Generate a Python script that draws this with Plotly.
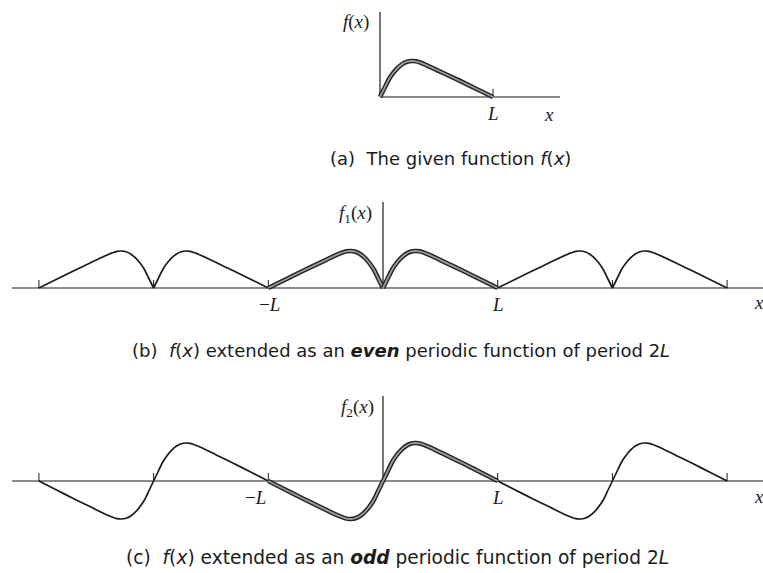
"""Even and odd periodic extensions of f(x), drawn as three stacked panels."""

import numpy as np
import plotly.graph_objects as go

W, H = 763, 573

# f(x) on [0, L] (x in units of L, y in units of the peak height)
BASE_X = [0, 0.04, 0.08, 0.12, 0.16, 0.20, 0.24, 0.28, 0.32, 0.40, 0.55, 0.70, 0.85, 1.00]
BASE_Y = [0, 0.25, 0.50, 0.68, 0.82, 0.92, 0.98, 1.00, 0.99, 0.90, 0.68, 0.46, 0.23, 0]

SHIFTS = [-1, 0, 1]            # periods of 2L drawn in (b) and (c)
TICKS_A = [1]
TICKS_BC = [-3, -2, -1, 1, 2, 3]
TICK_TEXT = {-1: "\u2212<i>L</i>", 1: "<i>L</i>"}

CAPTIONS = [
    "(a)  The given function <i>f</i>(<i>x</i>)",
    "(b)  <i>f</i>(<i>x</i>) extended as an <b><i>even</i></b> periodic function of period 2<i>L</i>",
    "(c)  <i>f</i>(<i>x</i>) extended as an <b><i>odd</i></b> periodic function of period 2<i>L</i>",
]
YLABELS = ["<i>f</i>(<i>x</i>)", "<i>f</i><sub>1</sub>(<i>x</i>)", "<i>f</i><sub>2</sub>(<i>x</i>)"]

# pixel layout of each panel: origin, px per unit, band top/bottom, axis extents
PANELS = [
    dict(ox=380, oy=97, sx=113, sy=36, top=0, bot=135, xl=380, xr=560, ytop=12, lshift=0),
    dict(ox=383, oy=288, sx=114.7, sy=37, top=190, bot=330, xl=12, xr=763, ytop=202, lshift=0.01),
    dict(ox=383, oy=481, sx=114.7, sy=38, top=385, bot=535, xl=12, xr=763, ytop=396, lshift=-0.11),
]
LABEL_POS = [  # (ylabel px, x-letter px, caption px, caption size)
    ((356, 22), (549, 114), (450, 158), 18),
    ((355, 214), (759, 303), (401, 350), 18),
    ((357, 408), (759, 496), (398, 557), 18.6),
]

SERIF = "Liberation Serif"
SANS = "DejaVu Sans"
INK = "#1b1b1b"

bx = np.array(BASE_X)
by = np.array(BASE_Y)

fig = go.Figure()


def ax_names(i):
    return ("x", "y") if i == 0 else (f"x{i + 1}", f"y{i + 1}")


def add_line(i, x, y, width, color, shape="linear"):
    xa, ya = ax_names(i)
    fig.add_trace(go.Scatter(x=x, y=y, mode="lines", xaxis=xa, yaxis=ya, hoverinfo="skip",
                             line=dict(color=color, width=width, shape=shape, smoothing=0.8),
                             showlegend=False))


def add_thick(i, x, y):
    add_line(i, x, y, 4.6, "#222222", "spline")
    add_line(i, x, y, 1.8, "#9a9a9a", "spline")


def note(x, y, text, family, size, xref="paper", yref="paper"):
    return dict(x=x, y=y, xref=xref, yref=yref, text=text, showarrow=False,
                xanchor="center", yanchor="middle",
                font=dict(family=family, size=size, color=INK))


for i, p in enumerate(PANELS):
    # axes lines and ticks
    add_line(i, [(p["xl"] - p["ox"]) / p["sx"], (p["xr"] - p["ox"]) / p["sx"]], [0, 0], 1.2, INK)
    add_line(i, [0, 0], [0, (p["oy"] - p["ytop"]) / p["sy"]], 1.2, INK)
    for t in (TICKS_A if i == 0 else TICKS_BC):
        add_line(i, [t, t], [0, 8 / p["sy"]], 1.0, INK)

# (a) the given function
add_thick(0, bx, by)

# (b) even extension: mirror, then repeat with period 2L
for k in SHIFTS:
    left_x, right_x = -bx[::-1] + 2 * k, bx + 2 * k
    if k == 0:
        add_thick(1, left_x, by[::-1])
        add_thick(1, right_x, by)
    else:
        add_line(1, left_x, by[::-1], 1.7, INK, "spline")
        add_line(1, right_x, by, 1.7, INK, "spline")

# (c) odd extension
ox = np.concatenate([-bx[::-1], bx[1:]])
oy = np.concatenate([-by[::-1], by[1:]])
for k in SHIFTS:
    if k == 0:
        add_thick(2, ox, oy)
    else:
        add_line(2, ox + 2 * k, oy, 1.7, INK, "spline")

layout = dict(width=W, height=H, margin=dict(l=0, r=0, t=0, b=0),
              paper_bgcolor="white", plot_bgcolor="white", showlegend=False)
annotations = []
for i, p in enumerate(PANELS):
    xa, ya = ax_names(i)
    xkey = "xaxis" if i == 0 else f"xaxis{i + 1}"
    ykey = "yaxis" if i == 0 else f"yaxis{i + 1}"
    layout[xkey] = dict(domain=[0, 1], range=[-p["ox"] / p["sx"], (W - p["ox"]) / p["sx"]],
                        visible=False, fixedrange=True)
    layout[ykey] = dict(domain=[1 - p["bot"] / H, 1 - p["top"] / H], anchor=xa,
                        range=[(p["oy"] - p["bot"]) / p["sy"], (p["oy"] - p["top"]) / p["sy"]],
                        visible=False, fixedrange=True)
    if i > 0:
        layout[xkey]["anchor"] = ya

    (lx, ly), (xx, xy), (cx, cy), csize = LABEL_POS[i]
    annotations.append(note(lx / W, 1 - ly / H, YLABELS[i], SERIF, 19))
    annotations.append(note(xx / W, 1 - xy / H, "<i>x</i>", SERIF, 19))
    annotations.append(note(cx / W, 1 - cy / H, CAPTIONS[i], SANS, csize))
    for t in (TICKS_A if i == 0 else TICKS_BC):
        if t in TICK_TEXT:
            dx = p["lshift"] if t < 0 else 0
            annotations.append(note(t + dx, -16 / p["sy"], TICK_TEXT[t], SERIF, 19, xa, ya))

layout["annotations"] = annotations
fig.update_layout(**layout)

fig.write_html("out.html", config={"displayModeBar": False},
               post_script="document.body.style.margin='0';document.body.style.overflow='hidden';")
